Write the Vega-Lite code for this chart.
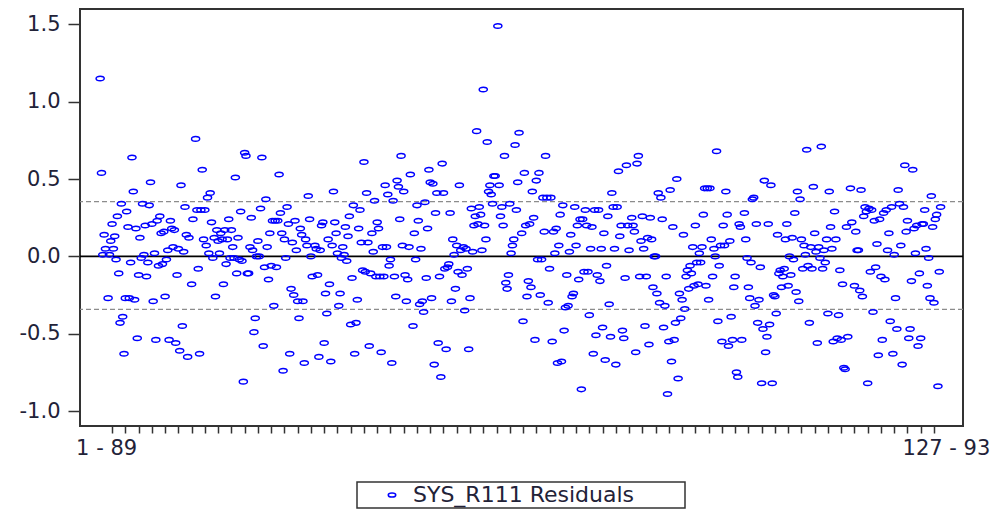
{
  "$schema": "https://vega.github.io/schema/vega-lite/v6.json",
  "width": 883,
  "height": 417,
  "autosize": "none",
  "padding": {"left": 80, "top": 9, "right": 35, "bottom": 84},
  "background": "white",
  "config": {
    "view": {"stroke": "#333333", "strokeWidth": 2},
    "font": "DejaVu Sans",
    "legend": {"strokeWidth": 1.5}
  },
  "datasets": {
    "bands": [{"level": 0.354}, {"level": -0.343}],
    "resid": [
      {"obs":1,"resid":1.15},{"obs":2,"resid":0.54},{"obs":3,"resid":0.01},{"obs":4,"resid":0.14},{"obs":5,"resid":0.05},{"obs":7,"resid":-0.27},{"obs":8,"resid":0.01},{"obs":9,"resid":0.10},{"obs":10,"resid":0.21},{"obs":11,"resid":0.05},{"obs":12,"resid":0.13},{"obs":13,"resid":-0.02},{"obs":14,"resid":0.26},{"obs":15,"resid":-0.11},{"obs":16,"resid":-0.43},{"obs":17,"resid":0.34},{"obs":18,"resid":-0.39},{"obs":19,"resid":-0.63},{"obs":20,"resid":-0.27},{"obs":21,"resid":0.29},{"obs":22,"resid":0.19},{"obs":23,"resid":-0.27},{"obs":24,"resid":-0.04},{"obs":25,"resid":0.64},{"obs":26,"resid":0.42},{"obs":27,"resid":-0.28},{"obs":28,"resid":0.18},{"obs":29,"resid":-0.53},{"obs":30,"resid":-0.12},{"obs":31,"resid":0.12},{"obs":32,"resid":-0.01},{"obs":33,"resid":0.34},{"obs":34,"resid":0.01},{"obs":35,"resid":0.20},{"obs":36,"resid":-0.13},{"obs":37,"resid":-0.04},{"obs":38,"resid":0.33},{"obs":39,"resid":0.48},{"obs":40,"resid":0.21},{"obs":41,"resid":-0.29},{"obs":42,"resid":0.02},{"obs":43,"resid":-0.54},{"obs":44,"resid":0.23},{"obs":45,"resid":-0.06},{"obs":46,"resid":0.26},{"obs":47,"resid":0.15},{"obs":48,"resid":-0.05},{"obs":49,"resid":0.16},{"obs":50,"resid":-0.26},{"obs":51,"resid":-0.02},{"obs":52,"resid":0.04},{"obs":53,"resid":-0.54},{"obs":54,"resid":0.23},{"obs":55,"resid":0.18},{"obs":56,"resid":0.06},{"obs":57,"resid":0.17},{"obs":58,"resid":-0.56},{"obs":59,"resid":-0.12},{"obs":60,"resid":0.05},{"obs":61,"resid":-0.61},{"obs":62,"resid":0.46},{"obs":63,"resid":-0.45},{"obs":64,"resid":0.03},{"obs":65,"resid":0.32},{"obs":66,"resid":0.14},{"obs":67,"resid":-0.65},{"obs":68,"resid":0.12},
      {"obs":70,"resid":-0.18},{"obs":71,"resid":0.24},{"obs":73,"resid":0.76},{"obs":74,"resid":0.30},{"obs":75,"resid":-0.08},{"obs":76,"resid":-0.63},{"obs":77,"resid":0.30},{"obs":78,"resid":0.56},{"obs":79,"resid":0.11},{"obs":80,"resid":0.30},{"obs":81,"resid":0.07},{"obs":82,"resid":0.38},{"obs":83,"resid":0.02},{"obs":84,"resid":0.41},{"obs":85,"resid":0.22},{"obs":86,"resid":-0.01},{"obs":87,"resid":0.12},{"obs":88,"resid":-0.26},{"obs":89,"resid":0.17},{"obs":90,"resid":0.10},{"obs":91,"resid":0.02},{"obs":92,"resid":0.15},{"obs":93,"resid":0.11},{"obs":94,"resid":-0.18},{"obs":95,"resid":0.17},{"obs":96,"resid":-0.05},{"obs":97,"resid":0.11},{"obs":98,"resid":0.24},{"obs":99,"resid":-0.01},{"obs":100,"resid":0.17},{"obs":101,"resid":0.06},{"obs":102,"resid":-0.01},{"obs":103,"resid":0.51},{"obs":104,"resid":-0.11},{"obs":105,"resid":0.12},{"obs":106,"resid":-0.02},{"obs":107,"resid":0.29},{"obs":108,"resid":-0.03},{"obs":109,"resid":-0.81},{"obs":110,"resid":0.67},{"obs":111,"resid":0.65},{"obs":112,"resid":-0.11},{"obs":113,"resid":-0.11},{"obs":114,"resid":0.06},{"obs":115,"resid":0.25},{"obs":116,"resid":0.04},{"obs":117,"resid":-0.49},{"obs":118,"resid":-0.40},{"obs":119,"resid":0.00},{"obs":120,"resid":0.10},{"obs":121,"resid":0.00},{"obs":122,"resid":0.31},{"obs":123,"resid":0.64},{"obs":124,"resid":-0.58},{"obs":125,"resid":-0.07},{"obs":126,"resid":0.37},{"obs":127,"resid":0.06},{"obs":128,"resid":-0.15},{"obs":129,"resid":0.15},{"obs":130,"resid":-0.06},{"obs":131,"resid":0.23},{"obs":132,"resid":-0.32},{"obs":133,"resid":0.23},{"obs":134,"resid":-0.07},{"obs":135,"resid":0.23},{"obs":136,"resid":0.53},{"obs":137,"resid":0.28},{"obs":138,"resid":0.15},{"obs":139,"resid":-0.74},{"obs":140,"resid":0.11},{"obs":141,"resid":-0.01},{"obs":142,"resid":0.32},{"obs":143,"resid":0.21},{"obs":144,"resid":-0.63},{"obs":145,"resid":-0.21},{"obs":146,"resid":0.09},{"obs":147,"resid":-0.25},{"obs":148,"resid":0.23},{"obs":149,"resid":0.04},{"obs":150,"resid":-0.29},{"obs":151,"resid":-0.40},{"obs":152,"resid":0.18},{"obs":153,"resid":0.14},
      {"obs":154,"resid":-0.29},{"obs":155,"resid":-0.69},{"obs":156,"resid":0.11},{"obs":157,"resid":0.07},{"obs":158,"resid":0.39},{"obs":159,"resid":0.24},{"obs":160,"resid":0.00},{"obs":161,"resid":-0.13},{"obs":163,"resid":0.07},{"obs":164,"resid":0.05},{"obs":165,"resid":-0.12},{"obs":166,"resid":-0.65},{"obs":167,"resid":0.04},{"obs":168,"resid":0.20},{"obs":169,"resid":0.22},{"obs":170,"resid":-0.56},{"obs":171,"resid":-0.24},{"obs":172,"resid":-0.37},{"obs":173,"resid":0.11},{"obs":174,"resid":-0.18},{"obs":175,"resid":-0.68},{"obs":176,"resid":0.07},{"obs":177,"resid":0.42},{"obs":178,"resid":0.22},{"obs":179,"resid":0.15},{"obs":180,"resid":0.02},{"obs":181,"resid":-0.32},{"obs":182,"resid":-0.24},{"obs":183,"resid":-0.01},{"obs":184,"resid":0.06},{"obs":185,"resid":0.01},{"obs":186,"resid":0.19},{"obs":187,"resid":-0.03},{"obs":188,"resid":0.13},{"obs":189,"resid":0.26},{"obs":190,"resid":-0.44},{"obs":191,"resid":-0.14},{"obs":192,"resid":0.33},{"obs":193,"resid":-0.63},{"obs":194,"resid":-0.43},{"obs":195,"resid":-0.28},{"obs":196,"resid":0.18},{"obs":197,"resid":0.30},{"obs":198,"resid":0.09},{"obs":199,"resid":-0.09},{"obs":200,"resid":0.61},{"obs":201,"resid":-0.10},{"obs":202,"resid":0.41},{"obs":203,"resid":0.09},{"obs":204,"resid":-0.58},{"obs":205,"resid":-0.11},{"obs":206,"resid":0.15},{"obs":207,"resid":0.03},{"obs":208,"resid":0.36},{"obs":209,"resid":-0.13},{"obs":210,"resid":0.22},{"obs":211,"resid":0.18},{"obs":212,"resid":-0.13},{"obs":213,"resid":-0.62},{"obs":214,"resid":0.06},{"obs":215,"resid":-0.13},{"obs":216,"resid":0.46},{"obs":217,"resid":0.06},{"obs":218,"resid":0.40},{"obs":219,"resid":-0.06},{"obs":220,"resid":-0.02},{"obs":221,"resid":-0.69},{"obs":222,"resid":0.36},{"obs":223,"resid":-0.13},{"obs":224,"resid":-0.26},{"obs":225,"resid":0.49},{"obs":226,"resid":0.45},{"obs":227,"resid":0.24},{"obs":228,"resid":0.65},{"obs":229,"resid":0.07},{"obs":230,"resid":0.42},{"obs":231,"resid":-0.12},{"obs":232,"resid":-0.29},{"obs":233,"resid":-0.15},{"obs":234,"resid":0.06},{"obs":235,"resid":0.53},
      {"obs":237,"resid":-0.45},{"obs":238,"resid":0.15},{"obs":239,"resid":-0.02},{"obs":240,"resid":0.33},{"obs":241,"resid":0.23},{"obs":242,"resid":-0.31},{"obs":243,"resid":0.05},{"obs":244,"resid":-0.29},{"obs":245,"resid":-0.36},{"obs":246,"resid":0.35},{"obs":247,"resid":-0.14},{"obs":248,"resid":0.18},{"obs":249,"resid":0.56},{"obs":250,"resid":0.48},{"obs":251,"resid":-0.27},{"obs":252,"resid":0.47},{"obs":253,"resid":-0.70},{"obs":254,"resid":0.28},{"obs":255,"resid":0.41},{"obs":256,"resid":-0.56},{"obs":257,"resid":-0.13},{"obs":258,"resid":-0.78},{"obs":259,"resid":0.60},{"obs":260,"resid":0.41},{"obs":261,"resid":-0.08},{"obs":262,"resid":-0.60},{"obs":263,"resid":-0.07},{"obs":264,"resid":-0.05},{"obs":265,"resid":0.28},{"obs":266,"resid":-0.29},{"obs":267,"resid":0.11},{"obs":268,"resid":0.01},{"obs":269,"resid":-0.21},{"obs":270,"resid":0.07},{"obs":271,"resid":-0.10},{"obs":272,"resid":0.46},{"obs":273,"resid":0.04},{"obs":274,"resid":-0.12},{"obs":275,"resid":0.06},{"obs":276,"resid":-0.35},{"obs":277,"resid":0.05},{"obs":278,"resid":-0.08},{"obs":279,"resid":-0.60},{"obs":280,"resid":-0.27},{"obs":281,"resid":0.31},{"obs":282,"resid":0.03},{"obs":283,"resid":0.20},{"obs":284,"resid":0.26},{"obs":285,"resid":0.81},{"obs":286,"resid":0.21},{"obs":287,"resid":0.32},{"obs":288,"resid":0.27},{"obs":289,"resid":0.04},{"obs":290,"resid":1.08},{"obs":291,"resid":0.20},{"obs":292,"resid":0.11},{"obs":293,"resid":0.74},{"obs":294,"resid":0.42},{"obs":295,"resid":0.46},{"obs":296,"resid":0.40},{"obs":297,"resid":0.34},{"obs":298,"resid":0.52},{"obs":299,"resid":0.52},{"obs":301,"resid":1.49},{"obs":302,"resid":0.46},{"obs":303,"resid":0.26},{"obs":304,"resid":0.32},{"obs":305,"resid":0.20},{"obs":306,"resid":0.65},{"obs":307,"resid":-0.17},{"obs":308,"resid":-0.21},{"obs":309,"resid":-0.12},{"obs":310,"resid":0.34},{"obs":311,"resid":0.02},{"obs":312,"resid":0.07},{"obs":313,"resid":0.11},{"obs":314,"resid":0.72},{"obs":315,"resid":0.30},{"obs":316,"resid":0.48},{"obs":317,"resid":0.80},
      {"obs":319,"resid":0.15},{"obs":320,"resid":-0.42},{"obs":321,"resid":0.54},{"obs":322,"resid":0.20},{"obs":323,"resid":-0.26},{"obs":324,"resid":-0.16},{"obs":325,"resid":0.21},{"obs":326,"resid":-0.20},{"obs":327,"resid":0.42},{"obs":328,"resid":0.25},{"obs":329,"resid":-0.54},{"obs":330,"resid":0.49},{"obs":331,"resid":-0.02},{"obs":332,"resid":0.54},{"obs":333,"resid":-0.25},{"obs":334,"resid":-0.02},{"obs":335,"resid":0.38},{"obs":336,"resid":0.16},{"obs":337,"resid":0.65},{"obs":338,"resid":0.38},{"obs":339,"resid":-0.30},{"obs":340,"resid":-0.08},{"obs":341,"resid":0.38},{"obs":342,"resid":-0.55},{"obs":343,"resid":0.16},{"obs":344,"resid":0.02},{"obs":345,"resid":0.18},{"obs":346,"resid":-0.69},{"obs":347,"resid":0.07},{"obs":348,"resid":0.27},{"obs":349,"resid":-0.68},{"obs":350,"resid":0.33},{"obs":351,"resid":-0.48},{"obs":352,"resid":-0.33},{"obs":353,"resid":-0.12},{"obs":354,"resid":-0.32},{"obs":355,"resid":0.03},{"obs":356,"resid":0.14},{"obs":357,"resid":-0.26},{"obs":358,"resid":-0.24},{"obs":359,"resid":0.32},{"obs":360,"resid":0.07},{"obs":361,"resid":0.20},{"obs":362,"resid":-0.15},{"obs":363,"resid":0.24},{"obs":364,"resid":-0.86},{"obs":365,"resid":0.24},{"obs":366,"resid":-0.10},{"obs":367,"resid":0.30},{"obs":368,"resid":0.20},{"obs":369,"resid":-0.10},{"obs":370,"resid":-0.38},{"obs":371,"resid":0.05},{"obs":372,"resid":0.19},{"obs":373,"resid":-0.63},{"obs":374,"resid":0.30},{"obs":375,"resid":-0.51},{"obs":376,"resid":-0.12},{"obs":377,"resid":0.30},{"obs":378,"resid":-0.16},{"obs":379,"resid":0.05},{"obs":380,"resid":-0.46},{"obs":381,"resid":0.15},{"obs":382,"resid":-0.67},{"obs":383,"resid":-0.06},{"obs":384,"resid":0.26},{"obs":385,"resid":-0.31},{"obs":386,"resid":-0.52},{"obs":387,"resid":0.41},{"obs":388,"resid":0.32},{"obs":389,"resid":0.05},{"obs":390,"resid":-0.70},{"obs":391,"resid":0.32},{"obs":392,"resid":0.55},{"obs":393,"resid":0.13},{"obs":394,"resid":0.20},{"obs":395,"resid":-0.48},{"obs":396,"resid":-0.53},{"obs":397,"resid":-0.14},{"obs":398,"resid":0.59},{"obs":399,"resid":0.20},{"obs":400,"resid":0.04},
      {"obs":402,"resid":0.25},{"obs":403,"resid":0.20},{"obs":404,"resid":0.16},{"obs":405,"resid":-0.62},{"obs":406,"resid":0.60},{"obs":407,"resid":0.65},{"obs":408,"resid":-0.13},{"obs":409,"resid":0.10},{"obs":410,"resid":0.26},{"obs":411,"resid":0.05},{"obs":412,"resid":-0.45},{"obs":413,"resid":-0.13},{"obs":414,"resid":0.12},{"obs":415,"resid":-0.57},{"obs":416,"resid":0.25},{"obs":417,"resid":0.11},{"obs":418,"resid":-0.20},{"obs":419,"resid":0.00},{"obs":420,"resid":0.00},{"obs":421,"resid":-0.24},{"obs":422,"resid":0.41},{"obs":423,"resid":-0.30},{"obs":424,"resid":0.38},{"obs":425,"resid":0.24},{"obs":426,"resid":-0.46},{"obs":427,"resid":-0.32},{"obs":428,"resid":-0.13},{"obs":429,"resid":-0.89},{"obs":430,"resid":-0.55},{"obs":431,"resid":0.43},{"obs":432,"resid":-0.68},{"obs":433,"resid":0.19},{"obs":434,"resid":-0.54},{"obs":435,"resid":-0.43},{"obs":436,"resid":0.50},{"obs":437,"resid":-0.79},{"obs":438,"resid":-0.24},{"obs":439,"resid":-0.40},{"obs":440,"resid":-0.28},{"obs":441,"resid":0.14},{"obs":442,"resid":-0.34},{"obs":443,"resid":-0.13},{"obs":444,"resid":-0.09},{"obs":445,"resid":-0.21},{"obs":446,"resid":-0.06},{"obs":447,"resid":-0.11},{"obs":448,"resid":0.06},{"obs":449,"resid":-0.19},{"obs":450,"resid":0.20},{"obs":451,"resid":-0.04},{"obs":452,"resid":-0.18},{"obs":453,"resid":0.02},{"obs":454,"resid":-0.04},{"obs":455,"resid":0.06},{"obs":456,"resid":0.27},{"obs":457,"resid":0.44},{"obs":458,"resid":-0.19},{"obs":459,"resid":0.44},{"obs":460,"resid":-0.28},{"obs":461,"resid":0.44},{"obs":462,"resid":0.11},{"obs":463,"resid":-0.13},{"obs":464,"resid":0.05},{"obs":465,"resid":0.00},{"obs":466,"resid":0.68},{"obs":467,"resid":-0.42},{"obs":468,"resid":-0.06},{"obs":469,"resid":0.07},{"obs":470,"resid":-0.55},{"obs":471,"resid":0.20},{"obs":472,"resid":0.07},{"obs":473,"resid":0.42},{"obs":474,"resid":0.27},{"obs":475,"resid":-0.58},{"obs":476,"resid":0.10},{"obs":477,"resid":-0.39},{"obs":478,"resid":-0.54},{"obs":479,"resid":-0.20},{"obs":480,"resid":-0.13},{"obs":481,"resid":-0.75},{"obs":482,"resid":-0.78},{"obs":483,"resid":0.21},{"obs":484,"resid":0.19},{"obs":485,"resid":-0.54},
      {"obs":487,"resid":0.28},{"obs":488,"resid":0.11},{"obs":489,"resid":-0.01},{"obs":490,"resid":-0.20},{"obs":491,"resid":-0.27},{"obs":492,"resid":-0.04},{"obs":493,"resid":0.37},{"obs":494,"resid":0.38},{"obs":495,"resid":-0.32},{"obs":496,"resid":0.21},{"obs":497,"resid":-0.43},{"obs":498,"resid":-0.28},{"obs":499,"resid":-0.07},{"obs":500,"resid":-0.82},{"obs":501,"resid":-0.47},{"obs":502,"resid":0.49},{"obs":503,"resid":-0.62},{"obs":504,"resid":-0.52},{"obs":505,"resid":0.21},{"obs":506,"resid":-0.44},{"obs":507,"resid":0.46},{"obs":508,"resid":-0.82},{"obs":509,"resid":-0.25},{"obs":510,"resid":-0.26},{"obs":511,"resid":-0.37},{"obs":512,"resid":0.14},{"obs":513,"resid":-0.11},{"obs":514,"resid":-0.09},{"obs":515,"resid":-0.20},{"obs":516,"resid":-0.13},{"obs":517,"resid":-0.08},{"obs":518,"resid":0.11},{"obs":519,"resid":0.21},{"obs":520,"resid":-0.19},{"obs":521,"resid":0.00},{"obs":522,"resid":-0.12},{"obs":523,"resid":0.12},{"obs":524,"resid":-0.02},{"obs":525,"resid":0.28},{"obs":526,"resid":-0.23},{"obs":527,"resid":0.42},{"obs":528,"resid":-0.29},{"obs":529,"resid":0.37},{"obs":530,"resid":0.11},{"obs":531,"resid":-0.08},{"obs":532,"resid":0.07},{"obs":533,"resid":0.01},{"obs":534,"resid":0.69},{"obs":535,"resid":-0.06},{"obs":536,"resid":-0.43},{"obs":537,"resid":0.06},{"obs":538,"resid":-0.08},{"obs":539,"resid":0.45},{"obs":540,"resid":0.15},{"obs":541,"resid":0.03},{"obs":542,"resid":-0.56},{"obs":543,"resid":0.06},{"obs":544,"resid":-0.01},{"obs":545,"resid":0.71},{"obs":546,"resid":-0.08},{"obs":547,"resid":0.04},{"obs":548,"resid":-0.04},{"obs":549,"resid":0.11},{"obs":550,"resid":-0.37},{"obs":551,"resid":0.42},{"obs":552,"resid":0.19},{"obs":553,"resid":0.05},{"obs":554,"resid":-0.55},{"obs":555,"resid":0.29},{"obs":556,"resid":0.11},{"obs":557,"resid":-0.53},{"obs":558,"resid":-0.38},{"obs":559,"resid":-0.09},{"obs":560,"resid":-0.54},{"obs":561,"resid":-0.18},{"obs":562,"resid":-0.72},{"obs":563,"resid":-0.73},{"obs":564,"resid":0.19},{"obs":565,"resid":-0.52},
      {"obs":567,"resid":0.44},{"obs":568,"resid":0.22},{"obs":570,"resid":-0.19},{"obs":571,"resid":0.16},{"obs":572,"resid":0.04},{"obs":573,"resid":0.04},{"obs":574,"resid":-0.22},{"obs":575,"resid":0.43},{"obs":576,"resid":-0.26},{"obs":577,"resid":0.26},{"obs":578,"resid":0.32},{"obs":579,"resid":0.29},{"obs":580,"resid":-0.82},{"obs":581,"resid":0.31},{"obs":582,"resid":-0.10},{"obs":583,"resid":0.30},{"obs":584,"resid":-0.36},{"obs":585,"resid":0.23},{"obs":586,"resid":-0.07},{"obs":587,"resid":0.08},{"obs":588,"resid":-0.64},{"obs":589,"resid":0.24},{"obs":590,"resid":-0.13},{"obs":591,"resid":-0.54},{"obs":592,"resid":0.28},{"obs":593,"resid":-0.15},{"obs":594,"resid":0.30},{"obs":595,"resid":0.04},{"obs":596,"resid":0.15},{"obs":597,"resid":-0.42},{"obs":598,"resid":0.32},{"obs":599,"resid":-0.63},{"obs":600,"resid":0.01},{"obs":601,"resid":-0.27},{"obs":602,"resid":-0.47},{"obs":603,"resid":0.43},{"obs":604,"resid":0.34},{"obs":605,"resid":0.07},{"obs":606,"resid":-0.70},{"obs":607,"resid":0.32},{"obs":608,"resid":0.59},{"obs":609,"resid":0.16},{"obs":610,"resid":0.23},{"obs":611,"resid":-0.53},{"obs":612,"resid":-0.47},{"obs":613,"resid":-0.16},{"obs":614,"resid":0.56},{"obs":615,"resid":0.18},{"obs":616,"resid":0.02},{"obs":617,"resid":0.20},{"obs":618,"resid":-0.58},{"obs":619,"resid":-0.11},{"obs":620,"resid":-0.53},{"obs":621,"resid":0.21},{"obs":622,"resid":0.21},{"obs":623,"resid":0.30},{"obs":624,"resid":0.05},{"obs":625,"resid":-0.19},{"obs":626,"resid":-0.01},{"obs":627,"resid":-0.27},{"obs":628,"resid":0.39},{"obs":629,"resid":0.19},{"obs":630,"resid":-0.30},{"obs":631,"resid":0.24},{"obs":632,"resid":0.27},{"obs":633,"resid":-0.84},{"obs":634,"resid":-0.10},{"obs":635,"resid":0.32}
    ]
  },
  "layer": [
    {
      "data": {"name": "bands"},
      "mark": {"type": "rule", "color": "#8c8c8c", "strokeDash": [5, 3], "strokeWidth": 1.3},
      "encoding": {
        "y": {"field": "level", "type": "quantitative", "title": null}
      }
    },
    {
      "data": {"values": [{"zero": 0}]},
      "mark": {"type": "rule", "color": "#000000", "strokeWidth": 1.6},
      "encoding": {
        "y": {"field": "zero", "type": "quantitative", "title": null}
      }
    },
    {
      "data": {"name": "resid"},
      "mark": {
        "type": "point",
        "shape": "M-1,0A1,0.56 0 1,1 1,0A1,0.56 0 1,1 -1,0Z",
        "filled": false,
        "size": 66,
        "strokeWidth": 1.5,
        "opacity": 1
      },
      "encoding": {
        "x": {
          "field": "obs",
          "type": "quantitative",
          "title": null,
          "scale": {"domain": [-14.2, 651.9], "nice": false, "zero": false},
          "axis": {
            "values": [5.5, 10, 20, 30, 40, 50, 60, 70, 80, 90, 100, 110, 120, 130, 140, 150, 160, 170, 180, 190, 200, 210, 220, 230, 240, 250, 260, 270, 280, 290, 300, 310, 320, 330, 340, 350, 360, 370, 380, 390, 400, 410, 420, 430, 440, 450, 460, 470, 480, 490, 500, 510, 520, 530, 540, 550, 560, 570, 580, 590, 600, 610, 620, 630, 639],
            "domain": false,
            "grid": false,
            "tickSize": 7,
            "tickWidth": 1.5,
            "tickColor": "#333333",
            "tickOpacity": {"condition": {"test": "datum.value == 5.5 || datum.value == 639", "value": 0}, "value": 1},
            "labelExpr": "datum.value == 5.5 ? '1 - 89' : (datum.value == 639 ? '127 - 93' : '')",
            "labelFont": "DejaVu Sans",
            "labelFontSize": 21,
            "labelColor": "#222238",
            "labelPadding": 4,
            "labelOverlap": false,
            "labelFlush": false,
            "labelBound": false
          }
        },
        "y": {
          "field": "resid",
          "type": "quantitative",
          "title": null,
          "scale": {"domain": [-1.097, 1.6], "nice": false, "zero": false},
          "axis": {
            "values": [-1, -0.5, 0, 0.5, 1, 1.5],
            "domain": false,
            "grid": false,
            "tickSize": 12,
            "tickWidth": 1.5,
            "tickColor": "#333333",
            "labelExpr": "datum.value < 0 ? '-' + format(-datum.value, '.1f') : format(datum.value, '.1f')",
            "labelFont": "DejaVu Sans",
            "labelFontSize": 21,
            "labelColor": "#222238",
            "labelPadding": 8,
            "labelOverlap": false,
            "labelFlush": false
          }
        },
        "color": {
          "datum": "SYS_R111 Residuals",
          "type": "nominal",
          "scale": {"range": ["#0000ff"]},
          "legend": {
            "orient": "none",
            "legendX": 277,
            "legendY": 473,
            "title": null,
            "strokeColor": "#333333",
            "fillColor": "white",
            "padding": 2,
            "symbolType": "M-1,0A1,0.56 0 1,1 1,0A1,0.56 0 1,1 -1,0Z",
            "symbolSize": 56,
            "symbolStrokeWidth": 1.5,
            "symbolOffset": 22,
            "labelOffset": 10,
            "labelLimit": 500,
            "labelFont": "DejaVu Sans",
            "labelFontSize": 22,
            "labelColor": "#222238",
            "labelExpr": "datum.label + '\u2800\u2800\u2800'"
          }
        }
      }
    }
  ]
}
